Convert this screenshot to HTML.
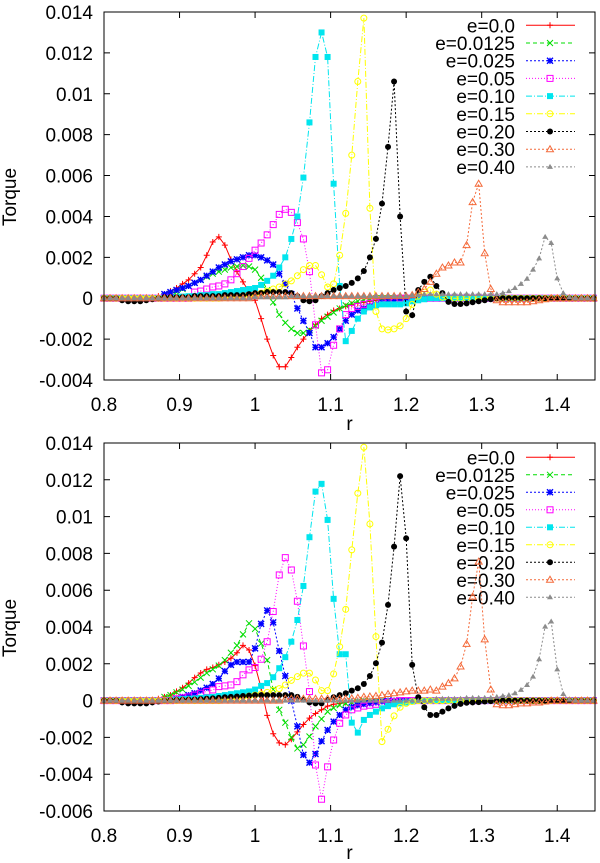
<!DOCTYPE html>
<html><head><meta charset="utf-8"><style>
body{margin:0;background:#fff}
svg{display:block;font-family:"Liberation Sans",sans-serif}
</style></head><body>
<svg id="chart" width="600" height="863" viewBox="0 0 600 863" xmlns="http://www.w3.org/2000/svg"></svg>
<script>
// grid of r values
const rStart = 0.8;
const rStep = 0.008;
const nPts = 82;
const xTicks = [0.8, 0.9, 1.0, 1.1, 1.2, 1.3, 1.4];
const xTickLabels = ["0.8", "0.9", "1", "1.1", "1.2", "1.3", "1.4"];
const yTicksTop = [0.014, 0.012, 0.01, 0.008, 0.006, 0.004, 0.002, 0, -0.002, -0.004];
const yTickLabelsTop = ["0.014", "0.012", "0.01", "0.008", "0.006", "0.004", "0.002", "0", "-0.002", "-0.004"];
const yTicksBot = [0.014, 0.012, 0.01, 0.008, 0.006, 0.004, 0.002, 0, -0.002, -0.004, -0.006];
const yTickLabelsBot = ["0.014", "0.012", "0.01", "0.008", "0.006", "0.004", "0.002", "0", "-0.002", "-0.004", "-0.006"];
const seriesNames = ["e=0.0", "e=0.0125", "e=0.025", "e=0.05", "e=0.10", "e=0.15", "e=0.20", "e=0.30", "e=0.40"];
// values in units of 1e-3, starting at grid index given by *Start
const topStart = [9, 10, 10, 15, 12, 20, 3, 25, 25];
const top0 = [0.1,0.2,0.35,0.5,0.7,0.9,1.2,1.5,2.1,2.75,3.0,2.6,1.9,1.3,0.8,0.3,-0.1,-1.0,-2.0,-2.8,-3.35,-3.35,-2.9,-2.4,-2.0,-1.6,-1.3,-1.0,-0.8,-0.6,-0.5,-0.4,-0.3,-0.25,-0.2,-0.15,-0.1,-0.05];
const top1 = [0.1,0.2,0.3,0.45,0.6,0.75,0.9,1.05,1.2,1.3,1.4,1.5,1.55,1.6,1.55,1.4,1.0,0.4,-0.2,-0.8,-1.2,-1.5,-1.7,-1.7,-1.55,-1.35,-1.1,-0.9,-0.7,-0.5,-0.35,-0.25,-0.15,-0.1,-0.05];
const top2 = [0.2,0.3,0.4,0.5,0.6,0.75,0.9,1.1,1.3,1.5,1.65,1.8,1.9,2.0,2.1,2.1,2.0,1.85,1.65,1.2,0.7,0.2,-0.5,-1.1,-1.7,-2.4,-2.4,-2.2,-1.9,-1.5,-1.1,-0.8,-0.6,-0.5,-0.4,-0.3,-0.2,-0.15,-0.1,-0.05];
const top3 = [0.3,0.35,0.45,0.55,0.6,0.7,0.9,1.2,1.55,1.95,2.35,2.7,3.1,3.6,4.1,4.35,4.2,3.7,2.9,1.3,-1.3,-3.65,-3.5,-2.3,-1.5,-0.8,-0.5,-0.4,-0.3,-0.25,-0.2,-0.15,-0.1,-0.05];
const top4 = [0.05,0.08,0.1,0.1,0.15,0.15,0.2,0.2,0.25,0.3,0.35,0.4,0.45,0.5,0.65,0.85,1.1,1.5,2.0,2.9,4.0,5.9,8.6,11.8,13.0,11.8,5.6,0.6,-2.1,-1.6,-1.0,-0.65,-0.45,-0.35,-0.3,-0.3,-0.3,-0.3,-0.25,-0.15,-0.1,-0.05];
const top5 = [0.05,0.08,0.1,0.12,0.15,0.2,0.25,0.35,0.45,0.55,0.7,0.85,1.1,1.4,1.6,1.6,1.15,0.55,0.7,2.1,4.15,7.0,10.6,13.7,4.4,-0.65,-1.5,-1.55,-1.5,-1.35,-1.0,-0.3,0.1,0.3,0.4,0.2,0.05];
const top6 = [-0.1,-0.15,-0.15,-0.15,-0.1,-0.05,0,0.05,0.05,0.05,0.05,0.05,0.1,0.1,0.1,0.1,0.1,0.15,0.15,0.15,0.15,0.2,0.25,0.25,0.3,0.3,0.3,0.3,0.25,0.1,-0.1,-0.15,-0.1,0.1,0.25,0.4,0.5,0.6,0.75,0.97,1.33,2.0,2.9,4.63,7.4,10.6,4.0,-0.65,-0.83,0.4,0.8,1.05,0.6,0.25,-0.18,-0.28,-0.28,-0.25,-0.2,-0.15,-0.1,-0.05];
const top7 = [0.1,0.1,0.1,0.1,0.1,0.1,0.1,0.1,0.1,0.1,0.1,0.1,0.1,0.1,0.1,0.1,0.1,0.1,0.1,0.1,0.1,0.1,0.1,0.1,0.1,0.1,0.15,0.3,0.45,0.8,1.2,1.5,1.6,1.75,1.75,2.6,4.7,5.6,2.2,0.45,-0.1,-0.2,-0.2,-0.2,-0.2,-0.2,-0.15,-0.1,-0.05];
const top8 = [0.05,0.05,0.05,0.05,0.05,0.05,0.1,0.1,0.1,0.1,0.1,0.1,0.1,0.1,0.1,0.1,0.1,0.1,0.1,0.1,0.1,0.1,0.1,0.1,0.1,0.1,0.15,0.15,0.2,0.2,0.2,0.2,0.2,0.2,0.2,0.2,0.2,0.2,0.2,0.2,0.2,0.25,0.35,0.5,0.7,0.95,1.4,1.95,3.0,2.7,0.97,0.25,0.05];
const botStart = [9, 10, 12, 12, 12, 20, 3, 30, 55];
const bot0 = [0.1,0.2,0.3,0.5,0.7,0.95,1.25,1.5,1.7,1.8,1.95,2.1,2.3,2.6,3.0,2.75,1.9,0.7,-0.8,-1.8,-2.3,-2.4,-2.1,-1.7,-1.3,-0.95,-0.7,-0.5,-0.3,-0.2,-0.15,-0.1,-0.05];
const bot1 = [0.2,0.3,0.45,0.6,0.8,1.0,1.25,1.5,1.7,1.9,2.2,2.6,3.0,3.6,4.2,3.9,3.1,2.2,0.6,-0.5,-1.2,-2.0,-2.6,-2.4,-1.95,-1.4,-1.0,-0.6,-0.4,-0.25,-0.15,-0.1,-0.05];
const bot2 = [0.1,0.2,0.3,0.4,0.55,0.7,0.9,1.2,1.6,1.94,2.1,2.1,2.1,2.84,4.17,4.9,4.25,2.7,1.34,0,-1.4,-2.95,-3.37,-2.9,-2.2,-1.6,-1.14,-0.78,-0.5,-0.35,-0.25,-0.2,-0.15,-0.1,-0.05];
const bot3 = [0.1,0.15,0.2,0.3,0.4,0.5,0.58,0.76,0.8,0.85,1.03,1.4,1.67,1.8,2.25,3.2,4.84,6.83,7.77,7.1,5.4,2.97,0.49,-3.5,-5.36,-3.6,-2.14,-1.23,-0.78,-0.5,-0.4,-0.3,-0.25,-0.2,-0.15,-0.1,-0.05];
const bot4 = [0.05,0.08,0.1,0.12,0.15,0.18,0.2,0.25,0.3,0.35,0.4,0.45,0.5,0.6,0.8,0.95,1.27,1.76,2.36,3.2,4.38,6.23,8.88,11.36,11.78,9.82,5.53,2.52,2.52,-1.2,-1.74,-1.05,-0.78,-0.6,-0.42,-0.3,-0.2,-0.15,-0.1,-0.05];
const bot5 = [0.1,0.12,0.15,0.2,0.25,0.3,0.35,0.45,0.55,0.65,0.85,1.1,1.3,1.49,1.49,1.12,0.54,0.54,1.45,2.93,4.96,8.19,11.27,13.77,9.6,3.48,-2.23,-1.56,-0.83,-0.36,-0.15,-0.05];
const bot6 = [-0.1,-0.15,-0.15,-0.15,-0.15,-0.1,-0.05,0,0.02,0.03,0.04,0.05,0.06,0.08,0.1,0.12,0.15,0.18,0.2,0.22,0.25,0.27,0.3,0.3,0.3,0.3,0.3,0.3,0.3,0.2,0.05,-0.1,-0.15,-0.15,0.04,0.18,0.3,0.4,0.54,0.67,0.9,1.34,2.03,3.15,5.2,8.37,12.2,8.82,1.94,0.18,-0.36,-0.78,-0.78,-0.6,-0.42,-0.29,-0.18,-0.12,-0.1,-0.08,-0.05,-0.03];
const bot7 = [0.1,0.1,0.1,0.1,0.1,0.1,0.1,0.1,0.1,0.1,0.1,0.12,0.15,0.2,0.22,0.25,0.3,0.36,0.4,0.45,0.5,0.54,0.54,0.54,0.6,0.54,0.76,0.95,1.21,1.85,3.08,5.65,7.55,3.33,0.6,-0.2,-0.25,-0.25,-0.2,-0.15,-0.15,-0.1,-0.1,-0.05];
const bot8 = [0.1,0.1,0.1,0.1,0.1,0.15,0.15,0.15,0.15,0.15,0.2,0.25,0.3,0.4,0.58,0.85,1.3,2.25,4.02,4.3,1.7,0.36,0.05];
const topSeries = [top0, top1, top2, top3, top4, top5, top6, top7, top8];
const botSeries = [bot0, bot1, bot2, bot3, bot4, bot5, bot6, bot7, bot8];

const colors = ["#ff0000","#00dd00","#0000ff","#ff00ff","#00e5ee","#ffff00","#000000","#f46a3a","#8c8c8c"];
const dashes = ["", "4,3", "2,2", "1,2", "6,2,1,2", "6,2,1,2", "2,2", "2,2", "2,2"];
const markers = ["plus","cross","star","osq","fsq","ocirc","fcirc","otri","ftri"];
const NS = "http://www.w3.org/2000/svg";
const svg = document.getElementById('chart');
function mk(tag, attrs, parent) {
  const e = document.createElementNS(NS, tag);
  for (const k in attrs) e.setAttribute(k, attrs[k]);
  (parent || svg).appendChild(e);
  return e;
}
function marker(g, type, x, y, c) {
  const s = 3;
  let m;
  if (type === "plus") m = mk('path', {d:`M${x-s} ${y}H${x+s}M${x} ${y-s}V${y+s}`, stroke:c, fill:'none'}, g);
  else if (type === "cross") m = mk('path', {d:`M${x-s} ${y-s}L${x+s} ${y+s}M${x-s} ${y+s}L${x+s} ${y-s}`, stroke:c, fill:'none'}, g);
  else if (type === "star") m = mk('path', {d:`M${x-s} ${y}H${x+s}M${x} ${y-s}V${y+s}M${x-s} ${y-s}L${x+s} ${y+s}M${x-s} ${y+s}L${x+s} ${y-s}`, stroke:c, 'stroke-width':1.4, fill:'none'}, g);
  else if (type === "osq") m = mk('rect', {x:x-s, y:y-s, width:2*s, height:2*s, stroke:c, fill:'none'}, g);
  else if (type === "fsq") m = mk('rect', {x:x-s, y:y-s, width:2*s, height:2*s, fill:c}, g);
  else if (type === "ocirc") m = mk('circle', {cx:x, cy:y, r:s, stroke:c, fill:'none'}, g);
  else if (type === "fcirc") m = mk('circle', {cx:x, cy:y, r:s, fill:c}, g);
  else if (type === "otri") m = mk('path', {d:`M${x} ${y-s-0.5}L${x+s+0.5} ${y+s-0.5}L${x-s-0.5} ${y+s-0.5}Z`, stroke:c, fill:'none'}, g);
  else m = mk('path', {d:`M${x} ${y-s}L${x+s} ${y+s-1}L${x-s} ${y+s-1}Z`, fill:c}, g);
  
  
}
function panel(name, top, bottom, yMax, yMin, yTicks, yLabels, series, starts, legendY0, legendDy, rTitleOff) {
  const L = 104, R = 595;
  const X = r => L + (r - 0.8) / 0.65 * (R - L);
  const Y = v => top + (yMax - v) / (yMax - yMin) * (bottom - top);
  const g = mk('g', {});  
  xTicks.forEach((t, i) => {
    const x = X(t);
    const tk = mk('path', {d:`M${x} ${bottom}V${bottom-6}M${x} ${top}V${top+6}`, stroke:'#000', 'stroke-width':1}, g);
     
    const tl = mk('text', {x:x, y:bottom+31, 'font-size':19, 'text-anchor':'middle'}, g);
    tl.textContent = xTickLabels[i];
     
  });
  yTicks.forEach((t, i) => {
    const y = Y(t * 1000);
    const tk = mk('path', {d:`M${L} ${y}H${L+6}M${R} ${y}H${R-6}`, stroke:'#000', 'stroke-width':1}, g);
     
    const tl = mk('text', {x:93, y:y+7, 'font-size':19, 'text-anchor':'end'}, g);
    tl.textContent = yLabels[i];
     
  });
  const xt = mk('text', {x:X(1.125), y:bottom+rTitleOff, 'font-size':19, 'text-anchor':'middle'}, g);
  xt.textContent = 'r';
   
  const cy = (top + bottom) / 2 + 1;
  const yt = mk('text', {x:0, y:0, 'font-size':19, 'text-anchor':'middle', transform:`translate(16 ${cy}) rotate(-90)`}, g);
  yt.textContent = 'Torque';
   
  const lg = mk('g', {}, g);  
  seriesNames.forEach((n, k) => {
    const y = legendY0 + k * legendDy;
    const le = mk('g', {}, lg);  
    const t = mk('text', {x:515, y:y+7, 'font-size':19, 'text-anchor':'end'}, le);
    t.textContent = n;
    mk('line', {x1:526, x2:575, y1:y, y2:y, stroke:colors[k], 'stroke-dasharray':dashes[k], 'stroke-width':1}, le);
    marker(le, markers[k], 550, y, colors[k]);
  });
  series.forEach((vals, k) => {
    const sg = mk('g', {}, g);  
    const pts = [];
    for (let i = 0; i < nPts; i++) {
      const j = i - starts[k];
      const v = (j >= 0 && j < vals.length) ? vals[j] : 0;
      pts.push([X(rStart + i * rStep), Y(v)]);
    }
    const ln = mk('polyline', {points: pts.map(p => p[0].toFixed(1) + ',' + p[1].toFixed(1)).join(' '), fill:'none', stroke:colors[k], 'stroke-width':1, 'stroke-dasharray':dashes[k]}, sg);
     
    pts.forEach(p => marker(sg, markers[k], p[0], p[1], colors[k]));
  });
  const fr = mk('rect', {x:L, y:top, width:R-L, height:bottom-top, fill:'none', stroke:'#000', 'stroke-width':1}, g);
   
}
panel('top-panel', 12, 380, 14, -4, yTicksTop, yTickLabelsTop, topSeries, topStart, 25.3, 17.7, 50);
panel('bottom-panel', 443, 811, 14, -6, yTicksBot, yTickLabelsBot, botSeries, botStart, 457.3, 17.5, 48);
</script>
</body></html>
